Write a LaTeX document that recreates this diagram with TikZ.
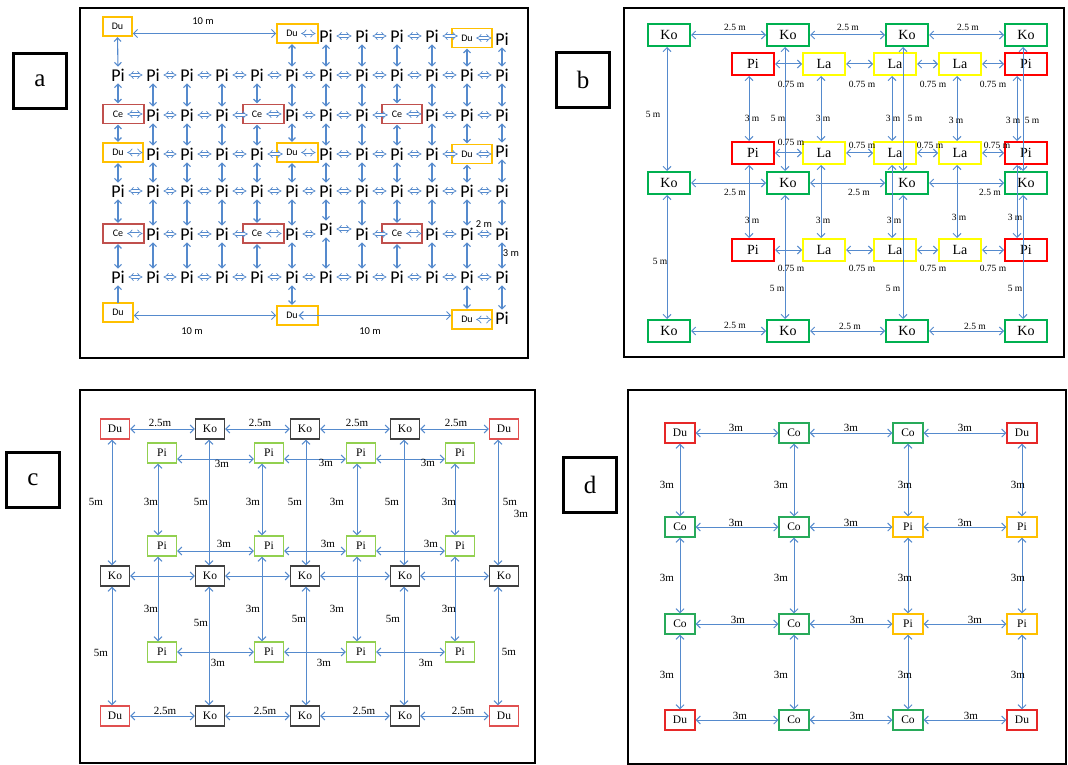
\documentclass[tikz,border=0pt]{standalone}
\usepackage{fontspec}
\setmainfont{Liberation Serif}
\newfontfamily\carl{Carlito}
\usetikzlibrary{arrows.meta}
\definecolor{ab}{RGB}{85,138,205}
\definecolor{dug}{RGB}{255,192,0}
\definecolor{cer}{RGB}{192,80,77}
\definecolor{bgr}{RGB}{0,176,80}
\definecolor{bre}{RGB}{255,0,0}
\definecolor{bye}{RGB}{255,255,0}
\definecolor{cko}{RGB}{64,64,64}
\definecolor{cpi}{RGB}{146,208,80}
\definecolor{cdu}{RGB}{224,80,80}
\definecolor{dre}{RGB}{230,40,40}
\definecolor{dgr}{RGB}{40,170,90}
\definecolor{dor}{RGB}{255,192,0}
\newcount\labn
\newcommand\mlab[4]{\global\advance\labn by 1\relax\edef\labnm{lab-\the\labn}\node[#1] (\labnm) at (#2,#3) {#4};}
\begin{document}
\begin{tikzpicture}[x=1pt,y=-1pt,
 lbox/.style={draw=black,line width=3.5pt,minimum width=53pt,minimum height=55pt,inner sep=0,font=\fontsize{25}{25}\selectfont},
 frame/.style={draw=black,line width=1.8pt},
 pa/.style={font=\carl\fontsize{18}{18}\selectfont,inner sep=1pt},
 sa/.style={font=\carl\fontsize{10}{10}\selectfont,inner sep=0pt,minimum height=19pt,minimum width=13pt},
 dub/.style={draw=dug,line width=1.6pt,minimum height=19pt,inner sep=0},
 ceb/.style={draw=cer,line width=1.6pt,minimum height=19pt,inner sep=0},
 ha/.style={draw=ab,double=white,double distance=2pt,line width=0.7pt,{Implies}-{Implies},shorten <=2.5pt,shorten >=2.5pt},
 va/.style={draw=ab,line width=1.1pt,{Straight Barb[length=3.5pt,width=7pt]}-{Straight Barb[length=3.5pt,width=7pt]},shorten <=1pt,shorten >=1pt},
 vu/.style={draw=ab,line width=1.1pt,-{Straight Barb[length=3.5pt,width=7pt]},shorten >=1pt},
 la/.style={draw=ab,line width=1pt,{Straight Barb[length=4pt,width=8pt]}-{Straight Barb[length=4pt,width=8pt]}},
 lba/.style={font=\carl\fontsize{10.5}{10.5}\selectfont,inner sep=0},
 lbb/.style={font=\fontsize{9.5}{9.5}\selectfont,inner sep=0},
 lbc/.style={font=\fontsize{11}{11}\selectfont,inner sep=0},
 bbx/.style={line width=2pt,minimum width=42pt,minimum height=22pt,inner sep=0,font=\fontsize{14}{14}\selectfont},
 cbx/.style={line width=1.3pt,minimum width=29pt,minimum height=20pt,inner sep=0,font=\fontsize{11.5}{11.5}\selectfont},
 dbx/.style={line width=1.2pt,minimum width=30pt,minimum height=20pt,inner sep=0,font=\fontsize{11.5}{11.5}\selectfont},
]
\useasboundingbox (0,0) rectangle (1068,765);
\fill[white] (0,0) rectangle (1068,765);

% letter boxes and frames
\node[lbox] (lt-a) at (40,81) {a};
\node[lbox] (lt-b) at (583,80) {b};
\node[lbox] (lt-c) at (33,480) {c};
\node[lbox] (lt-d) at (590,485) {d};
\draw[frame] (80,8) rectangle (528,358);
\draw[frame] (624,8) rectangle (1064,357);
\draw[frame] (80,390) rectangle (535,763);
\draw[frame] (628,390) rectangle (1066,764);

% ================= panel a =================
\node[dub,minimum width=29pt] (a-1-1b) at (117.5,26.5) {};
\node[dub,minimum width=41pt] (a-1-6b) at (297.5,33.5) {};
\node[dub,minimum width=40pt] (a-1-11b) at (472,38) {};
\node[ceb,minimum width=41pt] (a-3-1b) at (123.5,114) {};
\node[ceb,minimum width=41pt] (a-3-5b) at (263.5,114) {};
\node[ceb,minimum width=40pt] (a-3-9b) at (402,114) {};
\node[dub,minimum width=40pt] (a-4-1b) at (123,152.5) {};
\node[dub,minimum width=41pt] (a-4-6b) at (297.5,152.5) {};
\node[dub,minimum width=40pt] (a-4-11b) at (472,154) {};
\node[ceb,minimum width=41pt] (a-6-1b) at (123.5,233.5) {};
\node[ceb,minimum width=41pt] (a-6-5b) at (263.5,233.5) {};
\node[ceb,minimum width=40pt] (a-6-9b) at (402,233.5) {};
\node[dub,minimum width=30pt] (a-8-1b) at (118,312.5) {};
\node[dub,minimum width=41pt] (a-8-6b) at (297.5,315.5) {};
\node[dub,minimum width=40pt] (a-8-11b) at (472,319.5) {};

\node[sa] (a-1-1) at (117.5,26.5) {Du};
\node[sa] (a-1-6) at (292,33.5) {Du};
\node[sa] (a-1-11) at (467,38) {Du};
\foreach \c/\x in {7/326,8/362,9/397,10/432} \node[pa] (a-1-\c) at (\x,36) {Pi};
\node[pa] (a-1-12) at (502,39) {Pi};
\foreach \c/\x in {1/118,2/153,3/187,4/222,5/257,6/292,7/326,8/362,9/397,10/432,11/467,12/502}{
  \node[pa] (a-2-\c) at (\x,75) {Pi};
  \node[pa] (a-5-\c) at (\x,191) {Pi};
  \node[pa] (a-7-\c) at (\x,277) {Pi};
}
\foreach \c/\x in {1/118,5/257,9/397}{
  \node[sa] (a-3-\c) at (\x,114) {Ce};
  \node[sa] (a-6-\c) at (\x,233.5) {Ce};
}
\foreach \c/\x in {2/153,3/187,4/222,6/292,7/326,8/362,10/432,11/467,12/502} \node[pa] (a-3-\c) at (\x,115) {Pi};
\node[sa] (a-4-1) at (118,152.5) {Du};
\node[sa] (a-4-6) at (292,152.5) {Du};
\node[sa] (a-4-11) at (467,154) {Du};
\foreach \c/\x in {2/153,3/187,4/222,5/257,7/326,8/362,9/397,10/432} \node[pa] (a-4-\c) at (\x,154) {Pi};
\node[pa] (a-4-12) at (502,151) {Pi};
\foreach \c/\x in {2/153,3/187,4/222,6/292,8/362,10/432,11/467,12/502} \node[pa] (a-6-\c) at (\x,234) {Pi};
\node[pa] (a-6-7) at (326,229) {Pi};
\node[sa] (a-8-1) at (118,312.5) {Du};
\node[sa] (a-8-6) at (292,315.5) {Du};
\node[sa] (a-8-11) at (467,319.5) {Du};
\node[pa] (a-8-12) at (502,318) {Pi};

% horizontal
\foreach \r in {2,...,7}{
  \foreach \c/\d in {1/2,2/3,3/4,4/5,5/6,6/7,7/8,8/9,9/10,10/11,11/12}{
    \draw[ha] (a-\r-\c.east) -- (a-\r-\d.west |- a-\r-\c.east);
  }
}
\foreach \c/\d in {6/7,7/8,8/9,9/10,10/11,11/12} \draw[ha] (a-1-\c.east) -- (a-1-\d.west |- a-1-\c.east);
\draw[ha] (a-8-11.east) -- (a-8-12.west |- a-8-11.east);
\draw[la] (a-1-1b.east |- a-1-6b.west) -- (a-1-6b.west);
\draw[la] (a-8-1b.east |- a-8-6b.west) -- (a-8-6b.west);
\draw[la] (a-8-6.east) -- (a-8-11b.west |- a-8-6.east);
% vertical
\foreach \r/\s in {2/3,3/4,4/5,5/6,6/7}{
  \foreach \c in {1,...,12}{
    \draw[va] (a-\r-\c.south) -- (a-\s-\c.north);
  }
}
\foreach \c in {1,6,7,8,9,10,11,12} \draw[va] (a-1-\c.south) -- (a-2-\c.north);
\foreach \c in {6,11,12} \draw[va] (a-7-\c.south) -- (a-8-\c.north);
\draw[vu] (a-8-1.north) -- (a-7-1.south);
\mlab{lba}{203}{21}{10 m}
\mlab{lba}{192}{331}{10 m}
\mlab{lba}{370}{331}{10 m}
\mlab{lba}{484}{224}{2 m}
\mlab{lba}{511}{253}{3 m}

% ================= panel b =================
\foreach \c/\x in {1/669,2/788,3/907,4/1026}{
  \node[bbx,draw=bgr] (b-1-\c) at (\x,35) {Ko};
  \node[bbx,draw=bgr] (b-4-\c) at (\x,183) {Ko};
  \node[bbx,draw=bgr] (b-6-\c) at (\x,331) {Ko};
}
\foreach \c/\x/\t/\k in {1/753/Pi/bre,2/824/La/bye,3/895/La/bye,4/960/La/bye,5/1026/Pi/bre}{
  \node[bbx,draw=\k] (b-2-\c) at (\x,64) {\t};
  \node[bbx,draw=\k] (b-3-\c) at (\x,153) {\t};
  \node[bbx,draw=\k] (b-5-\c) at (\x,250) {\t};
}
\foreach \r in {1,4,6}{\foreach \c/\d in {1/2,2/3,3/4}{\draw[la] (b-\r-\c.east) -- (b-\r-\d.west);}}
\foreach \r in {2,3,5}{\foreach \c/\d in {1/2,2/3,3/4,4/5}{\draw[la] (b-\r-\c.east) -- (b-\r-\d.west);}}
\foreach \c/\s in {1/-2,2/-3,3/-4,4/-3}{
  \draw[la] ([xshift=\s pt]b-1-\c.south) -- ([xshift=\s pt]b-4-\c.north);
  \draw[la] ([xshift=\s pt]b-4-\c.south) -- ([xshift=\s pt]b-6-\c.north);
}
\foreach \c/\s in {1/-4,2/-3,3/-3,4/-3,5/-9}{
  \draw[la] ([xshift=\s pt]b-2-\c.south) -- ([xshift=\s pt]b-3-\c.north);
  \draw[la] ([xshift=\s pt]b-3-\c.south) -- ([xshift=\s pt]b-5-\c.north);
}
\mlab{lbb}{735}{27}{2.5 m}
\mlab{lbb}{848}{27}{2.5 m}
\mlab{lbb}{968}{27}{2.5 m}
\mlab{lbb}{791}{84}{0.75 m}
\mlab{lbb}{862}{84}{0.75 m}
\mlab{lbb}{933}{84}{0.75 m}
\mlab{lbb}{993}{84}{0.75 m}
\mlab{lbb}{791}{142}{0.75 m}
\mlab{lbb}{862}{145}{0.75 m}
\mlab{lbb}{930}{145}{0.75 m}
\mlab{lbb}{997}{145}{0.75 m}
\mlab{lbb}{735}{192}{2.5 m}
\mlab{lbb}{859}{192}{2.5 m}
\mlab{lbb}{990}{192}{2.5 m}
\mlab{lbb}{791}{268}{0.75 m}
\mlab{lbb}{862}{268}{0.75 m}
\mlab{lbb}{933}{268}{0.75 m}
\mlab{lbb}{993}{268}{0.75 m}
\mlab{lbb}{735}{325}{2.5 m}
\mlab{lbb}{850}{326}{2.5 m}
\mlab{lbb}{975}{326}{2.5 m}
\mlab{lbb}{653}{114}{5 m}
\mlab{lbb}{660}{261}{5 m}
\mlab{lbb}{752}{118}{3 m}
\mlab{lbb}{752}{220}{3 m}
\mlab{lbb}{778}{118}{5 m}
\mlab{lbb}{777}{288}{5 m}
\mlab{lbb}{823}{118}{3 m}
\mlab{lbb}{823}{220}{3 m}
\mlab{lbb}{893}{118}{3 m}
\mlab{lbb}{915}{118}{5 m}
\mlab{lbb}{894}{220}{3 m}
\mlab{lbb}{893}{288}{5 m}
\mlab{lbb}{956}{120}{3 m}
\mlab{lbb}{959}{217}{3 m}
\mlab{lbb}{1013}{120}{3 m}
\mlab{lbb}{1032}{120}{5 m}
\mlab{lbb}{1015}{217}{3 m}
\mlab{lbb}{1015}{288}{5 m}

% ================= panel c =================
\foreach \c/\x/\t/\k in {1/115/Du/cdu,2/210/Ko/cko,3/305/Ko/cko,4/405/Ko/cko,5/504/Du/cdu}{
  \node[cbx,draw=\k] (c-1-\c) at (\x,429) {\t};
  \node[cbx,draw=\k] (c-6-\c) at (\x,716) {\t};
  \node[cbx,draw=cko] (c-4-\c) at (\x,576) {Ko};
}
\foreach \c/\x in {1/162,2/269,3/361,4/460}{
  \node[cbx,draw=cpi] (c-2-\c) at (\x,453) {Pi};
  \node[cbx,draw=cpi] (c-3-\c) at (\x,546) {Pi};
  \node[cbx,draw=cpi] (c-5-\c) at (\x,652) {Pi};
}
\foreach \r in {1,4,6}{\foreach \c/\d in {1/2,2/3,3/4,4/5}{\draw[la] (c-\r-\c.east) -- (c-\r-\d.west);}}
\foreach \c/\d in {1/2,2/3,3/4}{
  \draw[la] ([yshift=-6pt]c-2-\c.east) -- ([yshift=-6pt]c-2-\d.west);
  \draw[la] ([yshift=-5pt]c-3-\c.east) -- ([yshift=-5pt]c-3-\d.west);
  \draw[la] (c-5-\c.east) -- (c-5-\d.west);
}
\foreach \c/\s in {1/-3,2/-1,3/1,4/-1,5/-6}{
  \draw[la] ([xshift=\s pt]c-1-\c.south) -- ([xshift=\s pt]c-4-\c.north);
  \draw[la] ([xshift=\s pt]c-4-\c.south) -- ([xshift=\s pt]c-6-\c.north);
}
\foreach \c/\s in {1/-4,2/-7,3/-4,4/-5}{
  \draw[la] ([xshift=\s pt]c-2-\c.south) -- ([xshift=\s pt]c-3-\c.north);
  \draw[la] ([xshift=\s pt]c-3-\c.south) -- ([xshift=\s pt]c-5-\c.north);
}
\mlab{lbc}{160}{423}{2.5m}
\mlab{lbc}{260}{423}{2.5m}
\mlab{lbc}{357}{423}{2.5m}
\mlab{lbc}{456}{423}{2.5m}
\mlab{lbc}{222}{464}{3m}
\mlab{lbc}{326}{463}{3m}
\mlab{lbc}{428}{463}{3m}
\mlab{lbc}{224}{544}{3m}
\mlab{lbc}{328}{544}{3m}
\mlab{lbc}{431}{544}{3m}
\mlab{lbc}{218}{663}{3m}
\mlab{lbc}{324}{663}{3m}
\mlab{lbc}{426}{663}{3m}
\mlab{lbc}{165}{711}{2.5m}
\mlab{lbc}{265}{711}{2.5m}
\mlab{lbc}{364}{711}{2.5m}
\mlab{lbc}{463}{711}{2.5m}
\mlab{lbc}{96}{502}{5m}
\mlab{lbc}{201}{502}{5m}
\mlab{lbc}{295}{502}{5m}
\mlab{lbc}{392}{502}{5m}
\mlab{lbc}{510}{502}{5m}
\mlab{lbc}{521}{514}{3m}
\mlab{lbc}{151}{502}{3m}
\mlab{lbc}{253}{502}{3m}
\mlab{lbc}{337}{502}{3m}
\mlab{lbc}{449}{502}{3m}
\mlab{lbc}{101}{653}{5m}
\mlab{lbc}{201}{623}{5m}
\mlab{lbc}{299}{619}{5m}
\mlab{lbc}{393}{619}{5m}
\mlab{lbc}{509}{652}{5m}
\mlab{lbc}{151}{609}{3m}
\mlab{lbc}{253}{609}{3m}
\mlab{lbc}{337}{609}{3m}
\mlab{lbc}{449}{609}{3m}

% ================= panel d =================
\foreach \c/\x/\t/\k in {1/680/Du/dre,2/794/Co/dgr,3/908/Co/dgr,4/1022/Du/dre}{
  \node[dbx,draw=\k] (d-1-\c) at (\x,433) {\t};
  \node[dbx,draw=\k] (d-4-\c) at (\x,720) {\t};
}
\foreach \c/\x/\t/\k in {1/680/Co/dgr,2/794/Co/dgr,3/908/Pi/dor,4/1022/Pi/dor}{
  \node[dbx,draw=\k] (d-2-\c) at (\x,527) {\t};
  \node[dbx,draw=\k] (d-3-\c) at (\x,624) {\t};
}
\foreach \r in {1,2,3,4}{\foreach \c/\d in {1/2,2/3,3/4}{\draw[la] (d-\r-\c.east) -- (d-\r-\d.west);}}
\foreach \c in {1,2,3,4}{\foreach \r/\s in {1/2,2/3,3/4}{\draw[la] (d-\r-\c.south) -- (d-\s-\c.north);}}
\mlab{lbc}{736}{428}{3m}
\mlab{lbc}{851}{428}{3m}
\mlab{lbc}{965}{428}{3m}
\mlab{lbc}{736}{523}{3m}
\mlab{lbc}{851}{523}{3m}
\mlab{lbc}{965}{523}{3m}
\mlab{lbc}{738}{620}{3m}
\mlab{lbc}{857}{620}{3m}
\mlab{lbc}{975}{620}{3m}
\mlab{lbc}{740}{716}{3m}
\mlab{lbc}{857}{716}{3m}
\mlab{lbc}{971}{716}{3m}
\foreach \y in {485,578,675}{
  \mlab{lbc}{667}{\y}{3m}
  \mlab{lbc}{781}{\y}{3m}
  \mlab{lbc}{905}{\y}{3m}
  \mlab{lbc}{1018}{\y}{3m}
}
\end{tikzpicture}
\end{document}
